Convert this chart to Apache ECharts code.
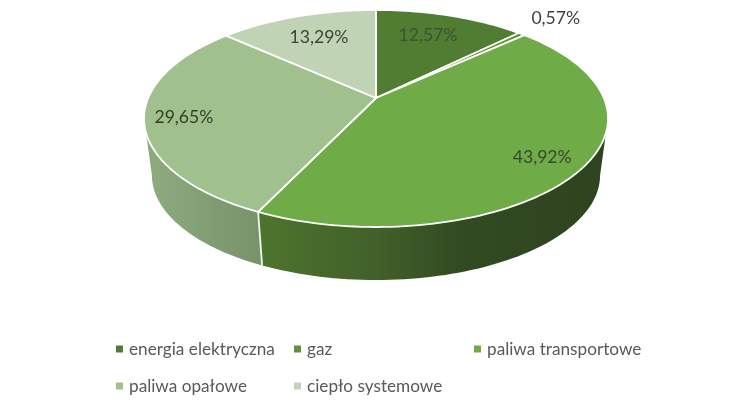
<!DOCTYPE html>
<html>
<head>
<meta charset="utf-8">
<style>html,body{margin:0;padding:0;background:#fff}#c{width:751px;height:410px}</style>
<script src="https://cdn.jsdelivr.net/npm/echarts@6/dist/echarts.min.js"></script>
</head>
<body>
<div id="c"></div>
<script>
const categories = ['energia elektryczna', 'gaz', 'paliwa transportowe', 'paliwa opałowe', 'ciepło systemowe'];
const shares = [12.57, 0.57, 43.92, 29.65, 13.29];

const topColors = ['#507d31', '#5d9238', '#6fab47', '#a0c08d', '#c0d3b4'];
const labelColors = ['#3f5230', '#404040', '#36492c', '#2f4029', '#3a4436'];
const labelRadius = [0.727, 1.285, 0.833, 0.834, 0.713];
const labelTurn = [-1.9, -0.4, 1.3, -1.0, 0.7];

// Perspective projection of the disc (fitted to the tilted pie)
const CX = 376, K = 227.8, A = 86.11, B = 98, C = -0.18894;
const SIDE_SCALE = 0.966, SIDE_Y = 155.4;
const VIS_START = 100.9, VIS_END = 259.1;

function projTop(deg, r) {
  const t = deg * Math.PI / 180, u = r * Math.sin(t), v = -r * Math.cos(t), d = 1 + C * v;
  return [CX + K * u / d, (A * v + B) / d];
}
function projBottom(deg) {
  const p = projTop(deg, 1);
  return [CX + (p[0] - CX) * SIDE_SCALE, SIDE_Y + (p[1] - B) * SIDE_SCALE];
}
function arc(fn, a, b) {
  const n = Math.max(2, Math.ceil(Math.abs(b - a) / 1.5)), pts = [];
  for (let i = 0; i <= n; i++) pts.push(fn(a + (b - a) * i / n, 1));
  return pts;
}
const total = shares.reduce((s, v) => s + v, 0);
const starts = [];
shares.reduce((s, v, i) => { starts[i] = s; return s + v; }, 0);

function sideFill(i) {
  const g = echarts.graphic.LinearGradient;
  if (i === 2) return new g(262, 0, 600, 0, [
    { offset: 0, color: '#4d742d' }, { offset: 0.34, color: '#41602a' },
    { offset: 0.58, color: '#324b21' }, { offset: 1, color: '#2e4420' }], true);
  return new g(148, 0, 260, 0, [
    { offset: 0, color: '#8eab7e' }, { offset: 1, color: '#78926a' }], true);
}

function renderSlice(i) {
  return function () {
    const a = starts[i] / total * 360, b = a + shares[i] / total * 360;
    const children = [];
    const s1 = Math.max(a, VIS_START), s2 = Math.min(b, VIS_END);
    if (s2 > s1) {
      const pts = arc(projTop, s1, s2).concat(arc(projBottom, s1, s2).reverse());
      children.push({ type: 'polygon', shape: { points: pts }, style: { fill: sideFill(i), stroke: null } });
      if (a > VIS_START && a < VIS_END) {
        const p = projTop(a, 1), q = projBottom(a);
        children.push({ type: 'line', shape: { x1: p[0], y1: p[1], x2: q[0], y2: q[1] },
          style: { stroke: '#f4f7f0', lineWidth: 1.8 } });
      }
    }
    children.push({
      type: 'polygon',
      shape: { points: [projTop(0, 0)].concat(arc(projTop, a, b)) },
      style: { fill: topColors[i], stroke: '#ffffff', lineWidth: 1.8, lineJoin: 'round' }
    });
    const lp = projTop((a + b) / 2 + labelTurn[i], labelRadius[i]);
    const txt = shares[i].toFixed(2).replace('.', ',') + '%';
    children.push({
      type: 'text', z2: 50,
      style: { x: lp[0], y: lp[1] + 0.5, text: txt, fill: labelColors[i], align: 'center', verticalAlign: 'middle',
        font: '17.6px Lato' }
    });
    return { type: 'group', children: children };
  };
}

const legendBase = {
  orient: 'vertical', padding: 0, itemWidth: 7, itemHeight: 7, itemGap: 17, icon: 'rect', selectedMode: false,
  textStyle: { color: '#595959', fontFamily: 'Lato', fontSize: 17.2, padding: [0, 0, 0, 1], lineHeight: 20 }
};

const chart = echarts.init(document.getElementById('c'), null, { renderer: 'canvas' });
chart.setOption({
  animation: false,
  backgroundColor: '#ffffff',
  color: topColors,
  legend: [
    Object.assign({}, legendBase, { left: 116, top: 339, data: [categories[0], categories[3]] }),
    Object.assign({}, legendBase, { left: 294, top: 339, data: [categories[1], categories[4]] }),
    Object.assign({}, legendBase, { left: 474, top: 339, data: [categories[2]] })
  ],
  series: categories.map((name, i) => ({
    type: 'custom',
    name: name,
    coordinateSystem: 'none',
    data: [shares[i]],
    itemStyle: { color: topColors[i] },
    renderItem: renderSlice(i)
  }))
});
</script>
</body>
</html>
